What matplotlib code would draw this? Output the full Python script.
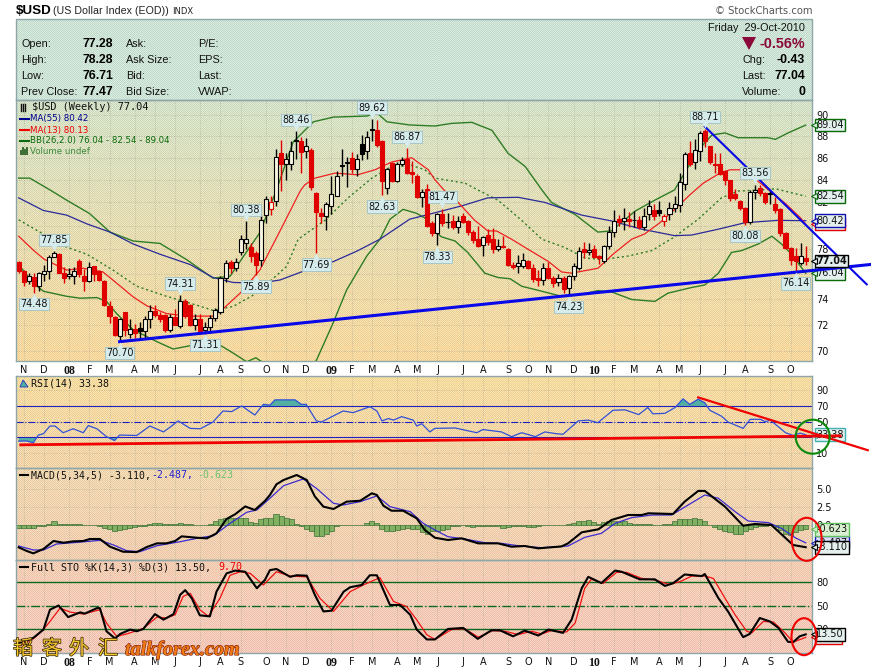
import numpy as np
import matplotlib
matplotlib.use('Agg')
import matplotlib.pyplot as plt
import matplotlib.patheffects as pe
from matplotlib.patches import Ellipse, Polygon, Rectangle
from matplotlib.transforms import offset_copy

# weekly candles, Nov 2007 - Oct 2010
opens = [76.95,76.25,75.45,75.75,75.0,76.0,76.2,77.4,77.65,76.05,
         75.8,75.85,77.05,75.85,75.4,76.6,76.2,75.45,73.4,72.6,
         71.1,72.95,71.3,71.65,71.75,71.5,72.45,73.05,72.75,72.7,
         71.6,72.55,71.9,73.8,73.55,72.0,72.4,71.6,71.85,72.5,
         72.95,75.7,76.95,76.5,77.75,78.5,78.2,77.7,77.1,80.95,
         81.4,82.1,86.4,85.45,85.4,87.6,87.5,86.6,86.7,82.8,
         81.1,80.85,81.7,82.6,85.3,85.65,86.0,84.95,87.3,86.6,
         88.65,88.6,87.5,83.3,85.5,83.85,85.45,85.9,84.7,84.35,
         82.5,83.2,80.2,79.4,81.0,80.35,80.4,79.9,80.8,80.4,
         79.5,78.9,78.35,79.2,78.9,78.05,78.3,78.05,76.75,76.65,
         76.65,77.05,76.45,75.7,75.5,76.45,75.65,75.3,75.7,74.85,
         75.8,76.45,78.0,77.8,78.0,77.45,77.05,78.3,79.5,80.55,
         80.4,80.6,80.5,80.45,79.85,81.0,81.35,81.3,80.4,81.0,
         81.5,81.75,83.65,86.4,85.6,86.6,88.5,87.05,85.4,85.4,
         84.75,83.95,82.7,82.1,81.55,80.35,82.95,83.25,82.85,82.85,
         81.9,81.4,79.35,78.1,77.45,76.9,77.28]
highs = [77.05,76.3,76.05,76.05,76.15,76.75,77.5,77.85,77.7,76.55,
         76.45,76.55,77.2,76.35,76.95,76.65,76.3,75.5,73.85,72.65,
         72.5,73.0,72.4,72.05,72.2,72.65,73.5,73.5,73.0,72.85,
         72.85,73.2,74.31,74.0,73.6,72.85,72.8,72.2,72.7,73.3,
         75.85,77.1,77.1,77.3,79.2,80.38,78.5,77.85,80.9,82.55,
         82.6,86.8,87.6,86.4,87.5,88.46,87.9,87.85,86.9,82.9,
         81.5,82.0,84.3,84.8,86.8,86.1,86.5,86.3,88.1,88.5,
         89.62,89.5,87.6,85.1,85.6,85.6,86.1,86.87,85.7,84.5,
         83.2,83.6,80.4,81.1,81.47,81.1,80.9,80.8,81.1,80.5,
         79.6,80.0,79.1,79.7,79.8,78.9,79.1,78.1,76.95,77.5,
         77.7,77.1,76.8,76.3,76.9,77.0,75.8,76.0,75.8,75.9,
         76.9,78.2,78.6,78.5,78.4,77.5,78.35,80.0,81.3,80.9,
         81.5,81.2,81.25,80.8,81.55,82.2,81.9,82.1,81.0,82.0,
         82.6,84.6,86.5,87.5,87.7,88.45,88.71,87.1,86.4,86.4,
         84.9,84.0,83.2,82.2,81.6,83.1,83.56,83.5,82.95,83.1,
         82.5,81.5,79.5,78.2,78.1,78.5,78.28]
lows = [76.1,75.05,75.15,74.48,74.6,75.45,75.55,77.35,76.1,75.25,
        75.55,75.15,75.75,74.65,75.3,75.45,75.45,73.45,72.1,71.15,
        70.7,71.15,70.95,71.0,71.0,70.95,71.7,72.6,72.2,71.4,
        71.45,71.95,71.7,72.5,71.9,71.6,71.3,71.31,71.35,72.3,
        72.85,75.3,76.1,76.2,77.5,78.0,77.0,75.89,76.6,80.2,
        80.9,81.7,83.0,84.0,84.9,85.9,84.6,86.0,83.1,77.69,
        80.2,79.6,81.0,82.6,84.3,83.4,84.6,84.3,85.8,85.9,
        87.5,87.0,82.63,82.7,83.8,83.8,85.2,84.5,83.7,82.4,
        81.6,79.9,79.1,78.33,80.0,79.8,79.7,79.4,80.2,79.2,
        78.5,78.2,77.45,78.4,77.7,77.9,78.1,76.65,76.4,76.1,
        76.5,76.4,75.3,75.05,75.1,75.55,74.9,75.0,74.5,74.23,
        75.5,76.3,77.3,77.5,77.25,76.8,76.9,78.05,79.0,80.0,
        79.6,79.9,79.9,79.7,79.6,80.5,80.5,80.8,80.0,80.5,
        81.2,81.2,83.1,85.2,85.0,85.7,87.0,85.4,84.6,84.4,
        83.5,82.1,82.2,81.3,80.08,80.1,82.3,82.6,81.9,81.9,
        81.1,79.1,78.0,76.7,76.14,76.7,76.71]
closes = [76.2,75.3,75.8,75.0,76.05,76.2,77.4,77.7,76.1,75.7,
          75.95,76.25,76.0,75.4,76.55,75.95,75.5,73.5,72.65,71.2,
          72.4,71.6,71.65,71.35,71.5,72.4,73.05,72.75,72.4,71.55,
          72.55,72.0,73.8,72.65,72.0,72.4,71.5,71.8,72.5,73.1,
          75.65,76.9,76.5,77.0,78.85,78.9,77.45,76.7,80.45,82.3,
          82.05,86.1,85.4,85.85,86.6,87.5,86.5,87.05,83.4,81.2,
          80.8,81.9,82.75,84.3,85.2,85.55,85.0,85.85,86.3,87.9,
          88.6,87.2,83.9,85.0,83.85,85.45,85.8,84.6,84.5,82.5,
          82.95,80.0,79.4,81.0,80.2,80.3,79.9,80.4,80.35,79.5,
          78.8,78.3,79.0,78.6,78.0,78.25,78.2,76.75,76.55,76.9,
          77.1,76.45,75.6,75.5,76.45,75.7,75.25,75.65,74.75,75.85,
          76.6,77.85,77.8,77.95,77.4,77.25,78.3,79.45,80.4,80.35,
          80.65,80.4,80.45,79.85,80.85,81.7,80.8,81.05,80.85,81.5,
          81.9,83.8,86.3,85.45,86.7,88.3,87.5,85.6,85.35,84.5,
          83.95,82.4,82.35,81.55,80.35,82.95,83.05,82.8,82.0,82.7,
          81.35,79.4,78.1,77.1,77.05,77.47,77.04]

# overlays, read at (week, value)
ma13_w = [0,3,5,9.5,12.8,16.7,19.4,22.7,25.4,29.3,33.3,38.5,40.2,43.9,47.8,51.8,55.8,56.7,58.7,62.7,67.2,70.6,73.9,77.9,81.2,82.5,84.5,87.1,90.4,93,94.7,97.7,101,105,107.6,109.6,114.8,117.8,121.5,124.1,127.1,130.4,133,135.7,139,141,143.6,145.4,150,152,154.9,156]
ma13_v = [79.1,77.9,77.2,76.3,76.45,76.15,75.25,74.15,73.45,72.85,72.65,72.65,73.1,74.45,76.3,79.55,83.0,83.55,84.15,84.6,84.45,84.9,85.6,86.0,84.9,84.0,83.0,82.0,80.45,79.55,79.55,78.85,78.0,77.0,76.15,76.05,76.45,77.6,78.85,79.3,80.25,81.55,82.65,83.7,84.6,84.9,84.9,84.3,82.6,81.9,80.7,80.13]
ma55_w = [0,4.9,9.5,13.5,18.1,22.7,28,34,38.5,42.5,47.8,51.8,57,62.4,67,71.6,77.5,82.5,87.8,93,99,104.3,111.6,117.5,123.5,130,133.4,138.7,144,150.5,156]
ma55_v = [82.4,81.3,80.9,80.15,79.45,78.45,77.6,76.75,75.7,75.3,75.25,75.5,76.3,77.0,77.85,78.85,80.55,81.1,81.7,82.4,82.45,82.0,80.9,80.4,79.7,79.15,79.2,79.7,80.25,80.45,80.42]
bbu_w = [0,2.2,6.2,9.5,14,18.1,22.7,28,33.3,38.5,41.9,44.6,47.8,51.1,54.4,58.4,62.4,69,71,73,77.5,82.5,85.8,89.8,93.8,97,100.4,103.7,105.6,110.3,114.8,117.5,122.2,126.1,130,134.7,137.4,140,142.6,148.5,150,152.5,156]
bbu_v = [84.15,84.15,83.1,82.2,81.05,79.45,78.7,78.5,77.15,75.65,75.8,77.45,79.4,83.1,87.45,89.35,89.8,89.9,90.2,89.35,89.05,88.95,89.2,89.3,88.55,86.4,85.2,83.1,82.0,80.95,79.45,79.55,81.25,82.2,83.1,86.7,88.1,88.3,87.85,87.85,87.7,88.3,89.04]
bbm_w = [0,4.2,8.8,13.5,18.7,23.4,29.3,35.3,38.5,42.5,47.2,53.1,55.4,60.7,65.3,70,73.9,77.9,80.5,82.5,88.5,91,95,99.7,103.7,108.3,112.2,115.6,120.8,125.5,130,134.7,139.3,142.6,147.3,150,156]
bbm_v = [80.5,79.45,78.3,77.6,76.3,75.0,74.2,73.5,73.1,73.4,74.45,76.6,78.85,80.45,82.4,84.15,85.2,85.3,84.9,84.15,83.7,83.1,82.2,80.45,78.85,78.15,77.3,77.15,77.45,77.9,79.05,80.55,82.4,83.0,83.1,83.2,82.54]
bbl_w = [0,2.9,4.9,9.5,12.2,15.5,17.4,19.4,22.7,27.4,30.6,34,39.2,42.5,45.2,47,49,55,59,62.3,65,69,71.6,73.6,76.2,78.9,80.9,82.5,83.8,86.5,89,92.4,95,97.4,99.7,103.7,107.6,110.9,114.8,117.5,121.5,126.1,128.7,133.4,136,138.7,141.3,143.3,146.6,149.3,151.2,153.2,156]
bbl_v = [76.75,75.25,74.6,74.2,74.05,74.1,73.8,72.85,71.6,70.7,70.15,70.4,70.6,69.85,69.2,69.5,69.0,67.5,69.3,72.1,74.7,77.45,78.85,80.55,81.4,81.05,80.55,79.55,79.05,78.7,77.75,76.05,75.7,75.6,75.0,74.6,74.2,74.3,74.65,74.55,73.95,73.8,74.45,74.9,75.1,76.05,77.75,77.9,78.45,79.1,78.45,77.6,76.04]

rsi_w = [0,1.6,2.9,3.9,4.9,6.2,7.2,8.8,10.8,12.8,13.8,15.5,17.4,19,20,23.4,26,28.7,30,31.6,34,36,38.5,40.5,42.2,44.2,46.8,48.5,49.8,50.8,54.8,56,57,59,60,64.3,66.3,69.6,71,72,73.3,74.3,75.9,78.2,78.9,79.9,81.5,82.5,86.5,90.8,92,95.7,97.7,99.7,102.4,104.3,106.6,107.9,110.9,112.9,114.8,117.8,120.2,122.9,124.7,125.7,128.1,130.1,131.7,133,134.7,136,137,139.3,140.6,143.6,145,147,148,149,152,153.5,154.9,156]
rsi_v = [25.3,25.5,23.2,33,34.7,44.5,44.5,36,41,36,45,41,31,26,33,32.5,44.5,37,43,51,41.5,41,49.5,63.6,62.8,70,58.5,72,71,77.7,77.7,72,72,51,49.6,63.6,61.5,69,63.6,51,54,52,56.4,52,44.5,47.4,37,41.5,42,36,40,37,31,36,31,37,34.7,34,51,52,48.7,64.5,65,59,68,60,60.6,68,79,72,78.5,74,64.5,57,49.6,41.5,53,53,50,52,36,32.5,35.5,33.38]
rsi_levels = [70, 50, 30]

macd_w = [0,1.6,2.9,4.9,6.9,8.9,10.8,12.8,14.1,16.1,18.1,20.7,23.4,25.4,27.4,29.3,31,32.3,35.3,37.3,39.2,41.2,42.9,44.9,46.8,48.8,49.8,51.1,52.5,55.1,57.1,58.7,60.4,62.4,65,67.7,70,71,72.3,73.9,76.2,78.9,80.5,82.5,85.1,87.8,91.1,95,97.7,100.3,103,107.6,108.9,111.6,114.9,117.5,120.8,123.5,124.8,129.7,132,134.7,136,140,143.6,145.9,149.2,151.2,153.5,156]
macd_v = [-3.13,-3.64,-3.97,-3.36,-2.24,-2.48,-2.29,-2.24,-1.96,-1.96,-3.04,-3.74,-3.79,-3.08,-2.57,-2.57,-2.24,-1.59,-1.78,-1.87,-1.17,.84,1.5,2.6,2.1,3.36,4.2,5.7,6.3,7.0,6.3,4.0,2.57,2.24,3.27,3.4,4.44,4.2,2.7,2.0,2.0,.93,-.7,-1.78,-2.1,-1.87,-2.57,-2.57,-3.04,-2.94,-3.27,-3.0,-2.57,-1.03,-.6,.7,1.4,1.4,1.64,1.54,3.27,4.77,4.77,2.57,-.1,.14,0,-1.3,-2.8,-3.11]
signal_w = [0,2.9,4.9,7.5,10.8,16.1,18.8,21.4,24,27.4,32,35.9,38.6,41.9,45.2,47.2,49.8,52.5,56.4,59,62.4,64.3,67.7,71,73.6,77.6,80.2,82.5,85.1,88.4,92.4,95.7,99,103.6,108.9,112.2,115.5,118.2,121.5,125.5,129.4,132.7,136,138.7,142,144.6,148.6,151.2,153.9,156]
signal_v = [-2.94,-3.5,-3.5,-2.66,-2.48,-2.15,-2.8,-3.6,-3.74,-2.9,-2.34,-1.78,-1.5,.23,1.78,2.1,3.74,5.5,6.45,5.14,3.04,2.8,3.27,4.07,2.57,1.87,.23,-.7,-1.64,-1.96,-2.48,-2.57,-2.9,-3.18,-2.94,-1.73,-1.17,.23,1.03,1.4,1.4,2.8,4.2,3.74,1.87,.56,.33,-.47,-1.78,-2.49]
hist = [-.4,-.4,-.4,-.4,-.2,-.1,.2,.5,.2,.1,
        .1,.1,.1,.05,0,-.05,-.1,-.4,-.6,-.8,
        -.7,-.5,-.4,-.3,-.2,-.1,.2,.3,.3,.2,
        .1,.2,.3,.15,.1,0,-.05,0,.1,.6,
        .9,1.0,1.0,1.0,1.0,1.0,.4,.3,.9,1.0,
        1.0,1.5,1.3,1.0,.8,.2,-.1,-.5,-.9,-1.6,
        -1.6,-1.3,-.9,-.2,0,0,0,0,0,.3,
        .5,.3,-.5,-.8,-.9,-.7,-.5,-.4,-.5,-.5,
        -1.0,-1.2,-.8,-.8,-.7,-.5,-.2,-.1,0,-.2,
        -.3,-.1,-.1,-.1,-.1,-.2,-.4,-.3,-.1,-.1,
        -.1,-.3,-.3,-.1,-.05,-.05,0,0,0,.1,
        .3,.6,.6,.7,.4,.2,.4,.5,.6,.4,
        .5,.3,.1,.1,.2,.1,.05,0,.1,.1,
        .5,.9,.9,.9,1.0,.9,.5,.05,-.3,-.6,
        -.8,-1.0,-1.2,-1.3,-.9,-.5,-.3,-.2,-.2,0,
        -.3,-.7,-1.2,-1.4,-1.0,-.7,-.62]

stok_w = [0,2.9,4.9,6.2,7.9,9.8,12.2,13.1,15.5,16.1,17.4,19.1,20.1,22.1,23.4,24.7,27,28.7,30.7,32,33,34.3,35.9,37.9,39.2,41.2,42.9,44.9,47.2,48.8,49.8,51.1,53.8,55.1,57.1,58.7,60.4,62,64.4,65.7,68,69.6,71,73.6,75.6,77.6,78.9,80.9,82.5,85.1,88.1,91,93.7,95.4,98,100.3,103,105,107.9,109.6,111.6,112.9,115.5,118.2,119.5,123.1,126.1,128.1,129.7,132,135.4,136,138.7,140.6,143.6,144.9,146.9,148.9,150.6,152.5,153.5,154.8,156]
stok_v = [2.7,9,19.6,45,50.4,35.6,41.6,40,47,47,17.5,8.2,14,19.6,17.5,20.4,39.4,32.3,39.4,64,70,59.7,37.8,36.5,68,91.4,95,93.5,72.4,83,95.6,97,87,89,88.5,64,42.8,43.7,68,73.7,76.6,89,89,51,51,38.6,19.6,7,7,20.4,21.7,7.8,18.7,18.7,11,18.3,12,19.6,15.4,32.3,72.4,87,79,95,93.5,83.8,83.8,75.4,78.7,90,88,90.6,59.7,42.8,10,14,34.4,30,21.7,4,3.5,11,13.5]
stod_w = [0,2.9,4.9,6.2,8.2,10.2,12.8,16.1,17.4,19.4,21.4,24.7,27.4,29.3,31,32.6,34,35.9,37.6,39.9,41.9,43.9,45.9,48.5,51.1,53.8,57.1,59.7,62.4,65.7,68.3,71.6,74.3,76.9,78.9,80.9,82.5,85.8,88.4,91.1,94,96.4,99,101.7,103.6,105.6,108.6,110.3,112.2,113.5,115.9,118.5,120.5,123.5,126.1,128.8,131.1,133.4,136,137.7,140,142,144.3,145.3,147.6,149.6,151.9,153.5,156]
stod_v = [-1.5,8,19.6,30,47,42,39.4,45,28,11,14,21,35.6,34.4,38.6,62,66,45,36.5,59.7,89,93.5,91.4,76.6,93.5,88,87,59.7,42.8,68,76.6,86,55.5,49,32,13,7,19.6,20.8,9.9,18.3,17.5,13.2,17.5,14,18.3,16.6,28,72.4,83.8,78.7,92.7,92.7,85,83,77.5,80.8,88,88,85,59.7,38.6,17.5,15.4,30,29.3,15.4,3.5,9.7]
sto_levels = [80, 50, 20]

month_weeks = [1,5,10,14,18,23,27,31,36,40,44,49,53,57,62,66,70,75,79,83,88,92,97,101,105,110,114,118,122,127,131,135,140,144,149,153]
month_labels = ['N','D','08','F','M','A','M','J','J','A','S','O','N','D','09','F','M','A','M','J','J','A','S','O','N','D','10','F','M','A','M','J','J','A','S','O']

price_ticks = [70,72,74,76,78,80,82,84,86,88,90]
price_tick_labels = ['70','72','74','','78','','82','84','86','88','90']

# (week, text value, above?)
peak_labels = [(20,70.70,False),(37,71.31,False),(3,74.48,False),(7,77.85,True),(32,74.31,True),
               (47,75.89,False),(45,80.38,True),(59,77.69,False),(55,88.46,True),(70,89.62,True),
               (77,86.87,True),(72,82.63,False),(84,81.47,True),(83,78.33,False),(109,74.23,False),
               (136,88.71,True),(146,83.56,True),(144,80.08,False),(154,76.14,False)]

W, H = 871, 668
LEFT, RIGHT = 16, 812
XMIN, XMAX = -0.535, 157.25
weeks = np.arange(len(closes))

fig = plt.figure(figsize=(W/100, H/100), dpi=100)

# dithered panel backgrounds
def shade(y0, y1, c0, c1):
    t = np.linspace(0, 1, y1-y0)[:, None, None]
    base = np.array(c0)[None, None, :]*(1-t) + np.array(c1)[None, None, :]*t
    yy, xx = np.mgrid[y0:y1, LEFT:RIGHT]
    chk = ((xx+yy) % 2)[:, :, None]*2-1
    return np.clip(base + chk*11, 0, 255)

bg = np.full((H, W, 3), 255.0)
bg[19:100, LEFT:RIGHT] = shade(19, 100, (204,226,212), (206,228,214))
bg[100:361, LEFT:RIGHT] = shade(100, 361, (212,226,200), (248,216,158))
bg[376:468, LEFT:RIGHT] = shade(376, 468, (246,220,160), (242,212,170))
bg[468:560, LEFT:RIGHT] = shade(468, 560, (240,216,176), (240,206,176))
bg[560:653, LEFT:RIGHT] = shade(560, 653, (242,206,180), (245,200,186))
ax_bg = fig.add_axes([0, 0, 1, 1], zorder=0)
ax_bg.imshow(bg.astype(np.uint8), interpolation='nearest', aspect='auto')
ax_bg.axis('off')

def panel(top, bottom, ymin, ymax):
    ax = fig.add_axes([LEFT/W, 1-bottom/H, (RIGHT-LEFT)/W, (bottom-top)/H], zorder=2)
    ax.patch.set_alpha(0)
    ax.set_xlim(XMIN, XMAX)
    ax.set_ylim(ymin, ymax)
    ax.yaxis.tick_right()
    ax.tick_params(axis='both', length=0, labelsize=7, pad=3, colors='#111111')
    ax.set_xticks(month_weeks)
    ax.set_xticklabels([])
    ax.grid(True, color='#a8a890', lw=0.6, ls=(0, (1, 2)), alpha=0.8)
    ax.set_axisbelow(True)
    for s in ax.spines.values():
        s.set_color('#8ea6a8')
        s.set_linewidth(1)
    return ax

def month_axis(ax):
    ax.set_xticklabels(month_labels, fontsize=7)
    for lab, txt in zip(ax.get_xticklabels(), month_labels):
        if txt.isdigit():
            lab.set_fontweight('bold')
            lab.set_family('Liberation Serif')
            lab.set_fontsize(8.5)

def tag(ax, val, text, edge, weight='normal', fc='#e4f0ee', zorder=6):
    ty = ax.get_yaxis_transform()
    ax.text(1.0055, val, text, transform=ty, ha='left', va='center', fontsize=7, color='#111111',
            fontweight=weight, clip_on=False, zorder=zorder,
            bbox=dict(boxstyle='square,pad=0.14', fc=fc, ec=edge, lw=1))
    ax.plot([1.002], [val], transform=ty, marker='<', ms=5, mfc=fc, mec=edge, mew=0.8, clip_on=False, zorder=zorder)

# ---- price panel
ax = panel(100, 361, 69.26, 91.45)
ax.set_yscale('log')
ax.set_ylim(69.26, 91.45)
ax.set_yticks(price_ticks)
ax.set_yticklabels(price_tick_labels)
ax.minorticks_off()
ax.tick_params(axis='y', which='both', length=0)
month_axis(ax)

ax.plot(bbu_w, bbu_v, color='#2e7d24', lw=1.0, zorder=3)
ax.plot(bbl_w, bbl_v, color='#2e7d24', lw=1.0, zorder=3)
ax.plot(bbm_w, bbm_v, color='#2e7d24', lw=1.0, ls=(0, (1.5, 2)), zorder=3)
ax.plot(ma55_w, ma55_v, color='#2a2a9a', lw=0.9, zorder=3)
ax.plot(ma13_w, ma13_v, color='#f02020', lw=0.9, zorder=3)

for i in weeks:
    o, h, l, c = opens[i], highs[i], lows[i], closes[i]
    prev = closes[i-1] if i > 0 else o
    col = '#e00000' if c < prev else 'black'
    ax.plot([i, i], [l, h], color=col, lw=1.0, zorder=4, solid_capstyle='butt')
    filled = c < o
    ax.bar(i, abs(c-o), bottom=min(o, c), width=0.8, zorder=5,
           facecolor=col if filled else '#f8f5e4', edgecolor=col, lw=0.8)

ax.plot([20, 168.7], [70.7, 76.75], color='#0808e8', lw=2.2, clip_on=False, zorder=6)
ax.plot([136, 168.1], [88.9, 75.15], color='#0808e8', lw=1.5, clip_on=False, zorder=6)

for wk, val, above in peak_labels:
    anchor = highs[wk] if above else lows[wk]
    dy = 4.6 if above else -4.6
    ax.annotate('%.2f' % val, xy=(wk, anchor), xytext=(0, dy), textcoords='offset points',
                ha='center', va='bottom' if above else 'top', fontsize=6.9, color='#111111', zorder=7,
                bbox=dict(boxstyle='square,pad=0.12', fc='#d6ecec', ec='#a8c6c6', lw=0.7))
    tip = offset_copy(ax.transData, fig=fig, y=2.4 if above else -2.4, units='points')
    ax.plot([wk], [anchor], marker='v' if above else '^', ms=5, mfc='#d6ecec', mec='none', zorder=7,
            transform=tip)

tag(ax, 80.13, '80.13', '#e00000', zorder=5)
tag(ax, 89.04, '89.04', '#0a6a0a')
tag(ax, 82.54, '82.54', '#0a6a0a')
tag(ax, 80.42, '80.42', '#1010b0')
tag(ax, 77.04, '77.04', 'black', weight='bold')
tag(ax, 76.04, '76.04', '#0a6a0a', zorder=5)

# ---- RSI
ax_rsi = panel(376, 468, -8.8, 108)
ax_rsi.set_yticks([10, 30, 50, 70, 90])
ax_rsi.set_yticklabels(['10', '', '50', '70', '90'])
rw, rv = np.array(rsi_w), np.array(rsi_v)
ax_rsi.fill_between(rw, rv, 70, where=rv >= 70, interpolate=True, color='#52b0a0', lw=0, zorder=2)
ax_rsi.fill_between(rw, rv, 30, where=rv <= 30, interpolate=True, color='#52b0a0', lw=0, zorder=2)
ax_rsi.axhline(rsi_levels[0], color='#2020c0', lw=0.8, zorder=2)
ax_rsi.axhline(rsi_levels[1], color='#2020c0', lw=0.8, ls='-.', zorder=2)
ax_rsi.axhline(rsi_levels[2], color='#2020c0', lw=0.8, zorder=2)
ax_rsi.plot(rw, rv, color='#3050d8', lw=0.9, zorder=3)
ax_rsi.plot([0.4, 162.8], [20.6, 32], color='#f00000', lw=2, clip_on=False, zorder=5)
ax_rsi.plot([134.7, 168.3], [80.8, 13.8], color='#f00000', lw=1.6, clip_on=False, zorder=5)
tag(ax_rsi, 33.38, '33.38', '#40b0b0', zorder=4)

# ---- MACD
ax_macd = panel(468, 560, -4.9, 7.98)
ax_macd.set_yticks([0, 2.5, 5.0])
ax_macd.set_yticklabels(['0.0', '2.5', '5.0'])
ax_macd.bar(weeks, hist, width=1.0, color='#80b060', edgecolor='#3c7038', lw=0.5, zorder=2)
ax_macd.plot(signal_w, signal_v, color='#3a2ad0', lw=0.9, zorder=3)
ax_macd.plot(macd_w, macd_v, color='black', lw=1.5, zorder=4)
tag(ax_macd, -2.487, '-2.487', '#2020c0', fc='#dcdcf8', zorder=4)
tag(ax_macd, -0.623, '-0.623', '#60c060', fc='#d8f0d0')
tag(ax_macd, -3.110, '-3.110', 'black')

# ---- Full stochastics
ax_sto = panel(560, 653, -10.3, 108.5)
ax_sto.set_yticks([20, 50, 80])
ax_sto.set_yticklabels(['20', '50', '80'])
month_axis(ax_sto)
ax_sto.axhline(sto_levels[0], color='#0a6a20', lw=1, zorder=2)
ax_sto.axhline(sto_levels[1], color='#0a6a20', lw=1, ls='-.', zorder=2)
ax_sto.axhline(sto_levels[2], color='#0a6a20', lw=1, zorder=2)
ax_sto.plot(stod_w, stod_v, color='#f01010', lw=0.9, zorder=3)
ax_sto.plot(stok_w, stok_v, color='black', lw=1.5, zorder=4)
tag(ax_sto, 9.70, ' 9.70', '#e00000', zorder=4)
tag(ax_sto, 13.50, '13.50', 'black')

# ---- page level text and hand drawn marks, in pixels
ov = fig.add_axes([0, 0, 1, 1], zorder=5)
ov.set_xlim(0, W)
ov.set_ylim(H, 0)
ov.axis('off')

SANS = 'Liberation Sans'
def t(x, y, s, size=7.8, color='#111111', weight='normal', ha='left', family=SANS):
    return ov.text(x, y, s, fontsize=size, color=color, fontweight=weight, ha=ha, va='center', family=family)

ov.add_patch(Rectangle((LEFT, 19), RIGHT-LEFT, 81, fc='none', ec='#8ea6a8', lw=1))

t(16, 11, '$USD', 9.6, 'black', 'bold')
t(53, 11, '(US Dollar Index (EOD))', 7.7, '#222222')
t(172, 11, 'INDX', 6.0, '#222222', family='DejaVu Sans')
t(812, 11, '\u00a9 StockCharts.com', 7.2, '#555555', ha='right', family='DejaVu Sans')

rows_y = [44, 60, 76, 92]
for y, a, b, c, d in zip(rows_y, ['Open:', 'High:', 'Low:', 'Prev Close:'], ['77.28', '78.28', '76.71', '77.47'],
                         ['Ask:', 'Ask Size:', 'Bid:', 'Bid Size:'], ['P/E:', 'EPS:', 'Last:', 'VWAP:']):
    t(21, y, a)
    t(113, y, b, 8.8, 'black', 'bold', ha='right')
    t(126, y, c)
    t(198, y, d)

t(805, 28, 'Friday  29-Oct-2010', 7.8, ha='right')
ov.add_patch(Polygon([[742, 37], [756, 37], [749, 50]], closed=True, fc='#8b0a3a', ec='none'))
t(805, 44, '-0.56%', 10.4, '#8b0a3a', 'bold', ha='right')
t(742, 60, 'Chg:')
t(805, 60, '-0.43', 8.8, 'black', 'bold', ha='right')
t(742, 76, 'Last:')
t(805, 76, '77.04', 8.8, 'black', 'bold', ha='right')
t(742, 92, 'Volume:')
t(805, 92, '0', 8.8, 'black', 'bold', ha='right')

LEG = 'DejaVu Sans'
MONO = 'DejaVu Sans Mono'
t(32, 107.5, '$USD (Weekly) 77.04', 7.4, '#111111', family=MONO)
ov.plot([20, 29], [119, 119], color='#000090', lw=1.5)
t(30, 119, 'MA(55) 80.42', 6.2, '#000090', family=LEG)
ov.plot([20, 29], [130, 130], color='#f00000', lw=1.5)
t(30, 130, 'MA(13) 80.13', 6.2, '#f00000', family=LEG)
ov.plot([20, 29], [141, 141], color='#0a6a0a', lw=1.5)
t(30, 141, 'BB(26,2.0) 76.04 - 82.54 - 89.04', 6.2, '#0a6a0a', family=LEG)
t(30, 151, 'Volume undef', 6.2, '#3c8a3c', family=LEG)
for k, hh in enumerate([5, 8, 6, 8]):
    ov.add_patch(Rectangle((20+k*2.1, 155-hh), 1.6, hh, fc='#3c7038', ec='none'))
for k in range(3):
    ov.plot([21+k*2.2, 21+k*2.2], [104, 111], color='#111111', lw=1.0)

t(31, 384, 'RSI(14) 33.38', 7.2, family=MONO)
ov.add_patch(Polygon([[20, 387], [23, 380], [26, 384], [28, 387]], closed=True, fc='#52b0a0', ec='#2030c0', lw=0.6))
ov.plot([20, 28], [475, 475], color='black', lw=1.5)
t(31, 475, 'MACD(5,34,5) -3.110,', 7.1, family=MONO)
t(151, 475, '-2.487,', 7.1, '#2020d0', family=MONO)
t(197, 475, '-0.623', 7.1, '#70c070', family=MONO)
ov.plot([20, 28], [567, 567], color='black', lw=1.5)
t(31, 567, 'Full STO %K(14,3) %D(3) 13.50,', 7.2, family=MONO)
t(218, 567, '9.70', 7.2, '#f00000', family=MONO)

ov.add_patch(Ellipse((812.7, 436.7), 34, 34, fc='none', ec='#0a8a0a', lw=1.5))
ov.add_patch(Ellipse((806.7, 539.3), 30, 43, fc='none', ec='#f00000', lw=1.5))
ov.add_patch(Ellipse((804, 636.7), 25, 37, fc='none', ec='#f00000', lw=1.5))

# watermark
shadow = [pe.withStroke(linewidth=1.0, foreground='#332200')]
for cx, ch in zip([23, 52, 79, 108], '韬客外汇'):
    ov.text(cx, 649, ch, fontsize=14.5, color='#f4c830', ha='center', va='center',
            family=['Noto Sans CJK SC', 'DejaVu Sans'], path_effects=shadow)
ov.text(125, 650, 'talkforex.com', fontsize=14.5, fontweight='bold', style='italic', color='#ee7a14',
        ha='left', va='center', family='Liberation Serif',
        path_effects=[pe.withStroke(linewidth=0.8, foreground='#801808')])

fig.savefig('out.png', dpi=100)
